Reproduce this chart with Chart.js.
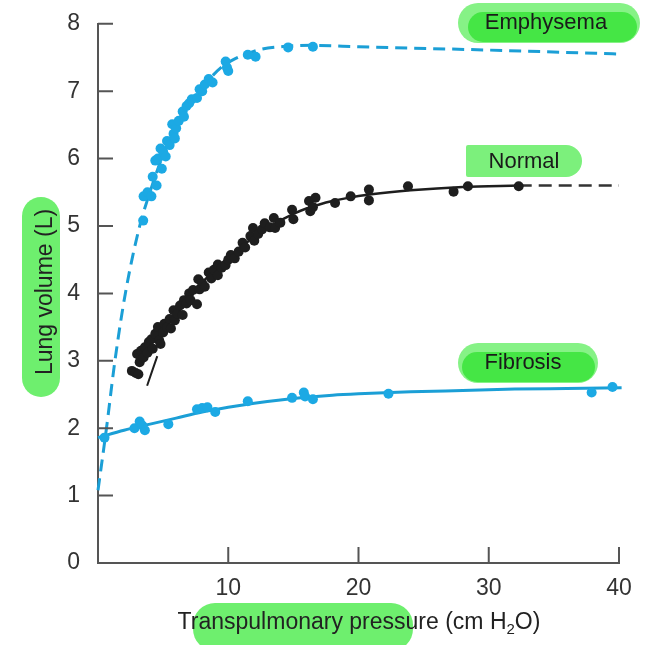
<!DOCTYPE html>
<html>
<head>
<meta charset="utf-8">
<script src="https://cdn.jsdelivr.net/npm/chart.js@4/dist/chart.umd.min.js"></script>
<style>
  html, body { margin: 0; padding: 0; background: #fff; }
</style>
</head>
<body>
<canvas id="lung" width="658" height="645"></canvas>
<script>
// axis ticks
const xTicks = [10, 20, 30, 40];
const yTicks = [0, 1, 2, 3, 4, 5, 6, 7, 8];

// emphysema: fitted curve + measurements
const emphCurveX = [0, 0.65, 1.3, 2.1, 3.2, 3.9, 4.6, 5.5, 6.5, 7.5, 8.5, 9.5, 10.5, 11.5, 12.5, 14, 16.5, 20, 30, 40.3];
const emphCurveY = [1.08, 2.0, 3.0, 4.0, 5.0, 5.45, 5.85, 6.28, 6.65, 6.95, 7.17, 7.36, 7.48, 7.56, 7.62, 7.66, 7.68, 7.66, 7.61, 7.55];
const emphPtsX = [3.47, 3.5, 3.8, 4.1, 4.2, 4.5, 4.4, 4.6, 4.9, 4.8, 5.0, 5.2, 5.3, 5.5, 5.7, 5.8, 5.9, 6.0, 6.2, 6.5, 6.6, 6.8, 7.0, 7.2, 7.6, 7.8, 8.0, 8.2, 8.5, 8.8, 9.8, 9.9, 10.0, 11.5, 12.1, 14.6, 16.5];
const emphPtsY = [5.08, 5.44, 5.5, 5.44, 5.73, 5.6, 5.97, 6.0, 5.85, 6.15, 6.1, 6.03, 6.26, 6.2, 6.51, 6.37, 6.3, 6.45, 6.56, 6.7, 6.62, 6.78, 6.82, 6.88, 6.9, 7.03, 7.0, 7.1, 7.18, 7.13, 7.44, 7.35, 7.3, 7.54, 7.51, 7.65, 7.66];

// normal
const normCurveX = [3.0, 4, 5, 6, 7, 8, 9, 10, 11, 12, 13, 14, 15, 16, 17, 18, 19, 21, 24, 28, 32.3];
const normCurveY = [3.02, 3.25, 3.48, 3.72, 3.95, 4.16, 4.36, 4.53, 4.69, 4.84, 4.97, 5.08, 5.18, 5.26, 5.32, 5.37, 5.41, 5.47, 5.53, 5.58, 5.6];
const normTailX = [32.3, 40];
const normTailY = [5.6, 5.6];
const normSlopeX = [3.77, 4.55];
const normSlopeY = [2.63, 3.07];
const normPtsX = [2.6, 2.9, 3.1, 3.0, 3.2, 3.3, 3.5, 3.6, 3.8, 3.9, 4.1, 4.2, 4.4, 4.6, 4.7, 4.8, 5.0, 5.1, 5.3, 5.5, 5.6, 5.8, 5.9, 6.1, 6.3, 6.5, 6.6, 6.8, 7.0, 7.1, 7.3, 7.6, 7.7, 7.8, 8.0, 8.2, 8.5, 8.7, 8.9, 9.2, 9.2, 9.5, 9.8, 10.0, 10.2, 10.5, 10.8, 11.1, 11.3, 11.7, 11.9, 12.0, 12.3, 12.6, 12.8, 13.2, 13.5, 13.6, 14.0, 14.9, 15.0, 16.2, 16.3, 16.5, 16.7, 18.2, 19.4, 20.8, 20.8, 23.8, 27.3, 28.4, 32.3];
const normPtsY = [2.85, 2.82, 2.8, 3.1, 2.98, 3.15, 3.05, 3.2, 3.12, 3.28, 3.32, 3.18, 3.4, 3.5, 3.3, 3.25, 3.42, 3.55, 3.5, 3.62, 3.48, 3.75, 3.6, 3.7, 3.82, 3.68, 3.9, 3.85, 4.0, 3.9, 4.05, 3.84, 4.21, 4.06, 4.15, 4.1, 4.31, 4.22, 4.35, 4.43, 4.27, 4.38, 4.42, 4.5, 4.57, 4.52, 4.62, 4.75, 4.68, 4.85, 4.97, 4.78, 4.88, 4.95, 5.04, 4.98, 5.12, 4.97, 5.05, 5.24, 5.1, 5.37, 5.22, 5.28, 5.42, 5.34, 5.44, 5.54, 5.38, 5.59, 5.51, 5.59, 5.59];

// fibrosis
const fibCurveX = [0, 2, 4, 6, 8, 10, 12, 14, 16, 18, 20, 24, 28, 32, 36, 40.2];
const fibCurveY = [1.86, 1.97, 2.06, 2.15, 2.24, 2.31, 2.37, 2.42, 2.46, 2.49, 2.51, 2.54, 2.56, 2.58, 2.59, 2.6];
const fibPtsX = [0.5, 2.8, 3.2, 3.4, 3.6, 5.4, 7.6, 8.0, 8.4, 9.0, 11.5, 14.9, 15.8, 15.9, 16.5, 22.3, 37.9, 39.5];
const fibPtsY = [1.86, 2.0, 2.1, 2.04, 1.97, 2.06, 2.28, 2.3, 2.31, 2.24, 2.4, 2.45, 2.53, 2.47, 2.43, 2.51, 2.53, 2.61];

const BLUE = '#1b9fd6';
const BLUE_PT = '#1ca9e4';
const BLACK = '#1e1e1e';
const FONT = "'Liberation Sans', Arial, Helvetica, sans-serif";

const xy = (xs, ys) => xs.map((x, i) => ({ x: x, y: ys[i] }));

function curve(xs, ys, color, width, dash) {
  return {
    data: xy(xs, ys),
    showLine: true,
    borderColor: color,
    borderWidth: width,
    borderDash: dash || [],
    pointRadius: 0,
    cubicInterpolationMode: 'monotone',
    clip: false
  };
}

function dots(xs, ys, color) {
  return {
    data: xy(xs, ys),
    showLine: false,
    pointRadius: 5,
    pointBackgroundColor: color,
    pointBorderWidth: 0,
    clip: false
  };
}

// marker-pen highlights behind the labels
function blob(ctx, x, y, w, h, r, color) {
  ctx.fillStyle = color;
  ctx.beginPath();
  ctx.roundRect(x, y, w, h, r);
  ctx.fill();
}

const highlights = {
  id: 'highlights',
  beforeDraw(chart) {
    const ctx = chart.ctx;
    ctx.save();
    const light = '#86f286', strong = '#45e645';
    // Emphysema
    blob(ctx, 458, 3, 182, 40, 20, light);
    blob(ctx, 468, 12, 169, 30, 15, strong);
    // Normal
    blob(ctx, 466, 145, 116, 32, [2, 16, 16, 2], '#7cf07c');
    // Fibrosis
    blob(ctx, 458, 343, 140, 40, 20, light);
    blob(ctx, 462, 352, 133, 30, 15, strong);
    // axis titles
    blob(ctx, 22, 197, 38, 200, 19, '#6eef6e');
    blob(ctx, 193, 603, 220, 48, 22, '#6eef6e');
    ctx.restore();
  }
};

// inward tick marks, curve labels and axis titles
const annotations = {
  id: 'annotations',
  afterDraw(chart) {
    const ctx = chart.ctx;
    const xs = chart.scales.x, ys = chart.scales.y;
    const a = chart.chartArea;
    ctx.save();
    ctx.strokeStyle = '#555';
    ctx.lineWidth = 2;
    ctx.beginPath();
    yTicks.slice(1).forEach(v => {
      const py = ys.getPixelForValue(v);
      ctx.moveTo(a.left, py);
      ctx.lineTo(a.left + 15, py);
    });
    xTicks.forEach(v => {
      const px = xs.getPixelForValue(v);
      ctx.moveTo(px, a.bottom);
      ctx.lineTo(px, a.bottom - 16);
    });
    ctx.stroke();

    ctx.fillStyle = '#1a1a1a';
    ctx.font = '22px ' + FONT;
    ctx.textAlign = 'center';
    ctx.textBaseline = 'alphabetic';
    ctx.fillText('Emphysema', 546, 29);
    ctx.fillText('Normal', 524, 168);
    ctx.fillText('Fibrosis', 523, 369);

    // x title with subscript
    ctx.fillStyle = '#222';
    ctx.textAlign = 'left';
    const t1 = 'Transpulmonary pressure (cm H', t2 = '2', t3 = 'O)';
    ctx.font = '23px ' + FONT;
    const w1 = ctx.measureText(t1).width;
    const w3 = ctx.measureText(t3).width;
    ctx.font = '15px ' + FONT;
    const w2 = ctx.measureText(t2).width;
    const x0 = 359 - (w1 + w2 + w3) / 2;
    ctx.font = '23px ' + FONT;
    ctx.fillText(t1, x0, 629);
    ctx.font = '15px ' + FONT;
    ctx.fillText(t2, x0 + w1, 634);
    ctx.font = '23px ' + FONT;
    ctx.fillText(t3, x0 + w1 + w2, 629);

    // y title
    ctx.translate(52, 292);
    ctx.rotate(-Math.PI / 2);
    ctx.textAlign = 'center';
    ctx.fillText('Lung volume (L)', 0, 0);
    ctx.restore();
  }
};

const lungConfig = {
  type: 'scatter',
  data: {
    datasets: [
      dots(emphPtsX, emphPtsY, BLUE_PT),
      dots(normPtsX, normPtsY, BLACK),
      dots(fibPtsX, fibPtsY, BLUE_PT),
      curve(emphCurveX, emphCurveY, BLUE, 3, [12, 7]),
      curve(normCurveX, normCurveY, BLACK, 2.5),
      curve(normTailX, normTailY, '#333', 2.5, [13, 7]),
      curve(normSlopeX, normSlopeY, BLACK, 2),
      curve(fibCurveX, fibCurveY, BLUE, 3)
    ]
  },
  options: {
    responsive: false,
    animation: false,
    layout: { padding: { top: 20, right: 39, left: 0, bottom: 0 } },
    scales: {
      x: {
        type: 'linear',
        min: 0,
        max: 40,
        afterFit: s => { s.height = 82; },
        afterBuildTicks: s => { s.ticks = xTicks.map(v => ({ value: v })); },
        grid: { display: false },
        border: { display: true, color: '#555', width: 2 },
        ticks: { padding: 4, color: '#333', font: { family: FONT, size: 23 } }
      },
      y: {
        min: 0,
        max: 8,
        afterFit: s => { s.width = 98; },
        afterBuildTicks: s => { s.ticks = yTicks.map(v => ({ value: v })); },
        grid: { display: false },
        border: { display: true, color: '#555', width: 2 },
        ticks: { padding: 10, color: '#333', font: { family: FONT, size: 23 } }
      }
    },
    plugins: {
      legend: { display: false },
      tooltip: { enabled: false }
    }
  },
  plugins: [highlights, annotations]
};

const lungChart = new Chart(document.getElementById('lung').getContext('2d'), lungConfig);
</script>
</body>
</html>
